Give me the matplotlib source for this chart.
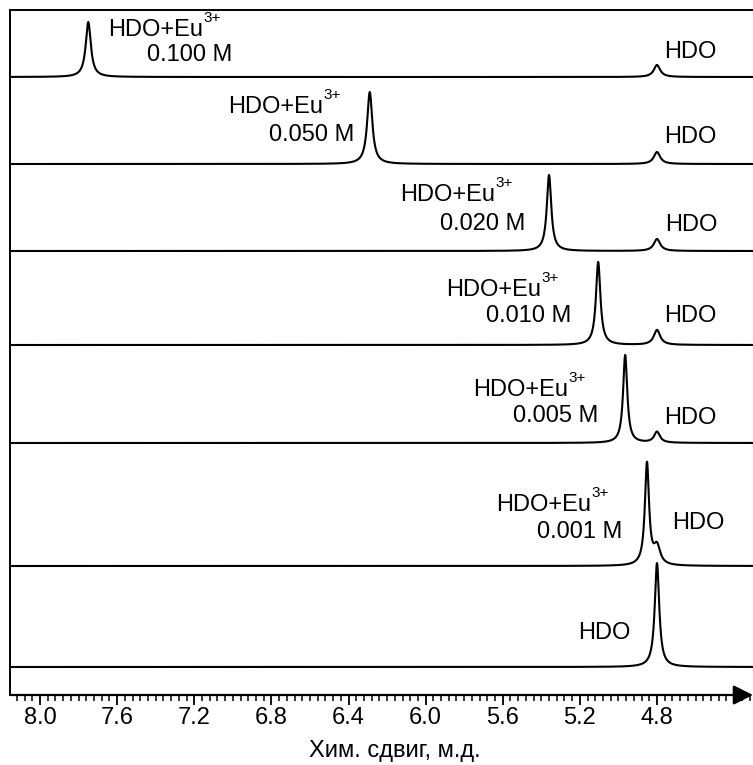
import numpy as np
import matplotlib.pyplot as plt
from matplotlib.ticker import MultipleLocator

plt.rcParams['font.family'] = ['Liberation Sans', 'DejaVu Sans']

# концентрации Eu3+ и положения пиков (м.д.), сверху вниз
conc = ["0.100 M", "0.050 M", "0.020 M", "0.010 M", "0.005 M", "0.001 M", None]
eu_shift = [7.75, 6.29, 5.36, 5.105, 4.965, 4.852, None]
eu_height = [55, 72, 76, 83, 88, 102, 0]
eu_width = [0.016, 0.016, 0.014, 0.014, 0.013, 0.013, 0.014]
hdo_shift = 4.80
hdo_height = [12, 12, 12, 15, 11, 18, 104]
hdo_width = [0.02, 0.02, 0.02, 0.02, 0.018, 0.02, 0.014]

# базовые линии спектров (снизу)
offsets = [618, 531, 444, 350, 252, 129, 28]
# подписи: (x, y) для "HDO+Eu", для концентрации и для HDO
lab_eu = [(7.647, 665), (7.025, 588), (6.133, 500), (5.894, 405), (5.754, 305), (5.635, 190)]
lab_c = [(7.445, 640), (6.812, 560), (5.925, 471), (5.687, 379), (5.547, 279), (5.422, 163)]
lab_hdo = [(4.763, 643), (4.763, 558), (4.758, 470), (4.763, 379), (4.763, 277),
           (4.722, 172), (5.21, 62)]


def lorentz(x, x0, h, w):
    return h * w**2 / ((x - x0)**2 + w**2)


x = np.linspace(8.16, 4.30, 4000)

fig = plt.figure(figsize=(7.53, 7.65), dpi=100)
ax = fig.add_axes([10 / 753, 70 / 765, 743 / 753, 685 / 765])

for i in range(7):
    y = lorentz(x, hdo_shift, hdo_height[i], hdo_width[i])
    if eu_shift[i] is not None:
        y = y + lorentz(x, eu_shift[i], eu_height[i], eu_width[i])
    ax.plot(x, offsets[i] + y, color='k', lw=1.5)

for i in range(6):
    t = ax.text(*lab_eu[i], "HDO+Eu", fontsize=17, ha='left', va='center')
    ax.annotate("3+", xy=(1, 1), xycoords=t, xytext=(0, 6), textcoords='offset points',
                fontsize=11, ha='left', va='top')
    ax.text(*lab_c[i], conc[i], fontsize=17, ha='left', va='center')
for i in range(7):
    ax.text(*lab_hdo[i], "HDO", fontsize=17, ha='left', va='center')

ax.set_xlim(8.156, 4.302)
ax.set_ylim(0, 685)
ax.set_yticks([])
ax.spines['right'].set_visible(False)
ax.spines['bottom'].set_visible(False)
ax.spines['top'].set_linewidth(1.4)
ax.spines['left'].set_linewidth(1.4)

ax.xaxis.set_minor_locator(MultipleLocator(0.04))
ax.set_xticks(np.arange(8.0, 4.7, -0.4))
ax.set_xticklabels(["%.1f" % v for v in np.arange(8.0, 4.7, -0.4)])
ax.tick_params(axis='x', which='major', length=7, width=1.3, labelsize=17, pad=2)
ax.tick_params(axis='x', which='minor', length=4, width=1.1)

ax.annotate('', xy=(1.0, 0), xytext=(0, 0), xycoords='axes fraction',
            arrowprops=dict(arrowstyle='-|>', lw=1.6, color='k', mutation_scale=30,
                            shrinkA=0, shrinkB=0), annotation_clip=False)

ax.set_xlabel("Хим. сдвиг, м.д.", fontsize=17)
ax.xaxis.set_label_coords(0.518, -0.065)

fig.savefig("out.png", dpi=100)
